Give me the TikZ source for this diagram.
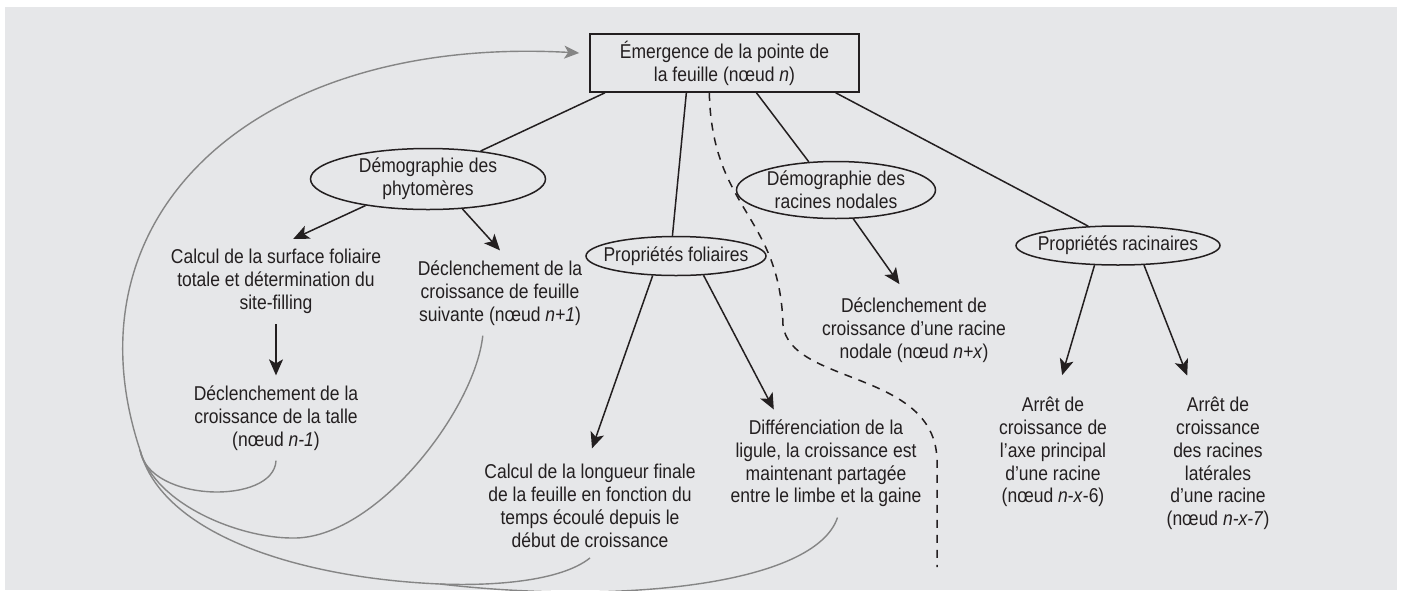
\documentclass[tikz,border=0pt]{standalone}
\usepackage{fontspec}
\setmainfont{Liberation Sans}[FakeStretch=0.875]
\usetikzlibrary{arrows.meta,shapes.geometric}
\definecolor{cfond}{HTML}{E6E7E9}
\definecolor{ctrait}{HTML}{231F20}
\definecolor{cretour}{HTML}{858585}
\tikzset{
  corps/.style={font=\fontsize{10}{11.4}\selectfont,text=ctrait,align=center},
  cadre/.style={corps,draw=ctrait,line width=0.8pt,minimum width=134.5pt,
                minimum height=29pt,inner sep=2pt},
  bulle/.style={corps,ellipse,draw=ctrait,line width=0.75pt,inner xsep=-4.5pt,inner ysep=-0.5pt},
  texte/.style={corps,inner sep=5pt},
  lien/.style={draw=ctrait,line width=0.75pt},
  fleche/.style={lien,-{Stealth[length=8pt,width=7pt,inset=2pt]}},
  retour/.style={draw=cretour,line width=0.7pt},
  retourf/.style={retour,-{Stealth[length=7.5pt,width=6.5pt,inset=2pt]}},
  pointille/.style={draw=ctrait,line width=0.75pt,dash pattern=on 4pt off 3.5pt},
}

\begin{document}
\begin{tikzpicture}[x=0.5pt,y=-0.5pt]

\fill[white] (0,0) rectangle (1403,590);
\useasboundingbox (0,0) rectangle (1403,590);
\fill[cfond] (5,7) rectangle (1397,590);

\node[cadre] (emerg) at (724.5,63) {Émergence de la pointe de\\la feuille (nœud \textit{n})};

\node[bulle,minimum width=117.5pt,minimum height=30.5pt] (demop) at (428,179)
  {Démographie des\\phytomères};
\node[bulle,minimum width=90pt,minimum height=19.5pt] (propf) at (676,256)
  {Propriétés foliaires};
\node[bulle,minimum width=99.5pt,minimum height=28.5pt] (demor) at (836,190)
  {Démographie des\\racines nodales};
\node[bulle,minimum width=102pt,minimum height=19.5pt] (propr) at (1118,245.5)
  {Propriétés racinaires};

\node[texte] (calcs) at (276,281.5)
  {Calcul de la surface foliaire\\totale et détermination du\\site-filling};
\node[texte] (declf) at (500,293)
  {Déclenchement de la\\croissance de feuille\\suivante (nœud \textit{n+1})};
\node[texte] (declt) at (276,418)
  {Déclenchement de la\\croissance de la talle\\(nœud \textit{n-1})};
\node[texte] (calcl) at (590,506)
  {Calcul de la longueur finale\\de la feuille en fonction du\\temps écoulé depuis le\\début de croissance};
\node[texte] (diff) at (826,463.5)
  {Différenciation de la\\ligule, la croissance est\\maintenant partagée\\entre le limbe et la gaine};
\node[texte] (declr) at (914,330)
  {Déclenchement de\\croissance d’une racine\\nodale (nœud \textit{n+x})};
\node[texte] (arreta) at (1053,452)
  {Arrêt de\\croissance de\\l’axe principal\\d’une racine\\(nœud \textit{n}-\textit{x}-6)};
\node[texte] (arretb) at (1218,463.5)
  {Arrêt de\\croissance\\des racines\\latérales\\d’une racine\\(nœud \textit{n-x-7})};

\draw[lien] (emerg.194) -- (demop.28);
\draw[lien] (emerg.218) -- (propf.100);
\draw[lien] (emerg.-43) -- (demor.134);
\draw[lien] (emerg.-15) -- (propr.147);

\draw[fleche] (demop.203) -- (calcs.68);
\draw[fleche] (demop.-41) -- (declf.north);
\draw[fleche] (calcs) -- (declt);
\draw[fleche,shorten >=3pt] (propf.220) -- (calcl.north);
\draw[fleche] (propf.-35) -- (diff.134);
\draw[fleche,shorten >=2pt] (demor.-59) -- (declr.106);
\draw[fleche,shorten >=6pt] (propr.220) -- (arreta.85);
\draw[fleche,shorten >=6pt] (propr.-37) -- (arretb.109);

\coordinate (j) at (140,450);
\coordinate (k) at (440,584);
\draw[retour] (declt.south) .. controls (274,505) and (149,503) .. (j);
\draw[retour] (declf.248) .. controls (475,410) and (375,540) .. (292,538)
  .. controls (240,538) and (155,505) .. (j);
\draw[retour] (calcl.south) .. controls (560,582) and (490,586) .. (k);
\draw[retour] (diff.-78) .. controls (815,585) and (620,605) .. (k);
\draw[retour] (k) .. controls (300,578) and (162,535) .. (j);
\draw[retourf,shorten >=5pt] (j) .. controls (62,215) and (255,35) .. (emerg.176);

\coordinate (fin) at (937,567);
\draw[pointille] (emerg.243) .. controls (712,210) and (780,215) .. (783,325)
  .. controls (790,385) and (935,370) .. (937,460) -- (fin);

\end{tikzpicture}
\end{document}
